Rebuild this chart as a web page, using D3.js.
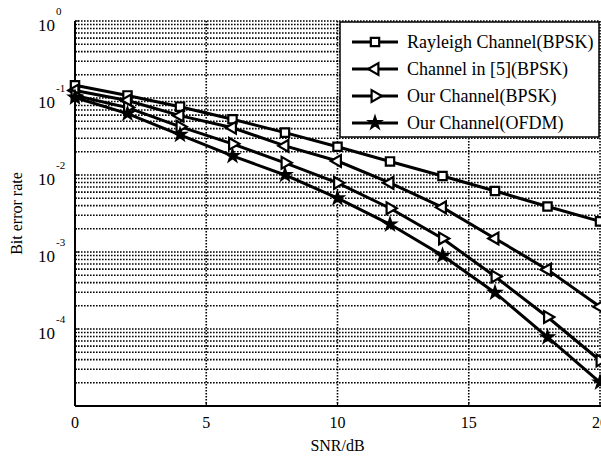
<!DOCTYPE html>
<html lang="en">
<head>
<meta charset="UTF-8">
<title>BER vs SNR</title>
<style>
  body { margin: 0; background: #fff; }
  svg { display: block; }
  text { font-family: "Liberation Serif", "Times New Roman", serif; fill: #000; }
  .grid line { stroke: #000; stroke-width: 1.6; stroke-dasharray: 1.6,1.4; }
  .series path.line { fill: none; stroke: #000; stroke-width: 3; }
</style>
</head>
<body>
<div id="chart"></div>
<script src="https://d3js.org/d3.v7.min.js"></script>
<script>
// data
const snr = [0, 2, 4, 6, 8, 10, 12, 14, 16, 18, 20];
const rayleigh = [0.146, 0.108, 0.0771, 0.053, 0.0355, 0.0233, 0.015, 0.0097, 0.0062, 0.0039, 0.0025];
const channel5 = [0.125, 0.0927, 0.059, 0.0411, 0.0239, 0.0152, 0.0079, 0.0038, 0.0015, 0.00059, 0.000194];
const ourBpsk = [0.108, 0.0751, 0.0424, 0.0254, 0.0144, 0.0079, 0.0037, 0.0015, 0.00048, 0.000143, 0.000039];
const ourOfdm = [0.1015, 0.0627, 0.0333, 0.0177, 0.01, 0.005, 0.00229, 0.0009, 0.000296, 0.0000785, 0.0000203];
const seriesNames = ["Rayleigh Channel(BPSK)", "Channel in [5](BPSK)", "Our Channel(BPSK)", "Our Channel(OFDM)"];
const xTicks = [0, 5, 10, 15, 20];
const yExponents = [0, -1, -2, -3, -4];

const W = 601, H = 459;
const plot = { left: 75, right: 600, top: 21, bottom: 406 };

const svg = d3.select("#chart").append("svg")
    .attr("width", W).attr("height", H);

const x = d3.scaleLinear().domain([0, 20]).range([plot.left, plot.right]);
const y = d3.scaleLog().domain([1e-5, 1]).range([plot.bottom, plot.top]);

// grid lines (minor + major on y, major on x)
const yGrid = [];
for (let e = -5; e < 0; e++) {
    for (let m = 1; m < 10; m++) yGrid.push(m * Math.pow(10, e));
}
yGrid.push(1);

const grid = svg.append("g").attr("class", "grid");
grid.selectAll(".gy").data(yGrid.filter(v => v > 1e-5)).enter().append("line")
    .attr("x1", plot.left).attr("x2", plot.right)
    .attr("y1", d => y(d)).attr("y2", d => y(d));
grid.selectAll(".gx").data(xTicks.slice(1)).enter().append("line")
    .attr("x1", d => x(d)).attr("x2", d => x(d))
    .attr("y1", plot.top).attr("y2", plot.bottom);

// axes
const axes = svg.append("g");
axes.append("line").attr("x1", plot.left).attr("x2", plot.left)
    .attr("y1", plot.top).attr("y2", plot.bottom)
    .attr("stroke", "#000").attr("stroke-width", 2);
axes.append("line").attr("x1", plot.left).attr("x2", plot.right + 1)
    .attr("y1", plot.bottom).attr("y2", plot.bottom)
    .attr("stroke", "#000").attr("stroke-width", 2);

// inward ticks
axes.selectAll(".tx").data(xTicks).enter().append("line")
    .attr("x1", d => x(d)).attr("x2", d => x(d))
    .attr("y1", plot.bottom).attr("y2", plot.bottom - 4)
    .attr("stroke", "#000").attr("stroke-width", 1.2);
axes.selectAll(".ty").data(yGrid).enter().append("line")
    .attr("x1", plot.left).attr("x2", d => plot.left + (Math.abs(Math.log10(d) % 1) < 1e-9 ? 4 : 2))
    .attr("y1", d => y(d)).attr("y2", d => y(d))
    .attr("stroke", "#000").attr("stroke-width", 1.2);

// x tick labels
axes.selectAll(".xl").data(xTicks).enter().append("text")
    .attr("x", d => x(d)).attr("y", 428)
    .attr("text-anchor", "middle").attr("font-size", 16)
    .text(d => d);

// y tick labels: 10 with superscript exponent
const yl = axes.selectAll(".yl").data(yExponents).enter().append("g")
    .attr("transform", d => `translate(55,${y(Math.pow(10, d))})`);
yl.append("text").attr("x", 0).attr("y", 10)
    .attr("text-anchor", "end").attr("font-size", 17)
    .text("10");
yl.append("text").attr("x", 1).attr("y", -6)
    .attr("text-anchor", "start").attr("font-size", 11)
    .text(d => d);

// axis titles
svg.append("text").attr("x", (plot.left + plot.right) / 2).attr("y", 451)
    .attr("text-anchor", "middle").attr("font-size", 16).text("SNR/dB");
svg.append("text")
    .attr("transform", `translate(22,${(plot.top + plot.bottom) / 2}) rotate(-90)`)
    .attr("text-anchor", "middle").attr("font-size", 16).text("Bit error rate");

// series
const markers = [
    { type: d3.symbolSquare, size: 70, rot: 0, fill: "#fff" },
    { type: d3.symbolTriangle, size: 60, rot: -90, fill: "#fff" },
    { type: d3.symbolTriangle, size: 60, rot: 90, fill: "#fff" },
    { type: d3.symbolStar, size: 38, rot: 0, fill: "#000" }
];
const seriesValues = [rayleigh, channel5, ourBpsk, ourOfdm];
const series = seriesNames.map((name, i) => ({
    name: name,
    marker: markers[i],
    points: snr.map((s, j) => ({ snr: s, ber: seriesValues[i][j] }))
}));

const line = d3.line().x(d => x(d.snr)).y(d => y(d.ber));

const g = svg.selectAll(".series").data(series).enter().append("g").attr("class", "series");
g.append("path").attr("class", "line").attr("d", d => line(d.points));
g.each(function(s) {
    d3.select(this).selectAll(".pt").data(s.points).enter().append("path")
        .attr("d", d3.symbol().type(s.marker.type).size(s.marker.size))
        .attr("transform", d => `translate(${x(d.snr)},${y(d.ber)}) rotate(${s.marker.rot})`)
        .attr("fill", s.marker.fill).attr("stroke", "#000").attr("stroke-width", 2.2);
});

// legend
const legend = svg.append("g");
legend.append("rect").attr("x", 340).attr("y", 22).attr("width", 259).attr("height", 115)
    .attr("fill", "#fff").attr("stroke", "#000").attr("stroke-width", 1.5);
const li = legend.selectAll(".li").data(series).enter().append("g")
    .attr("transform", (d, i) => `translate(0,${42 + i * 27})`);
li.append("line").attr("x1", 352).attr("x2", 398).attr("y1", 0).attr("y2", 0)
    .attr("stroke", "#000").attr("stroke-width", 3);
li.append("path")
    .attr("d", d => d3.symbol().type(d.marker.type).size(d.marker.size)())
    .attr("transform", d => `translate(375,0) rotate(${d.marker.rot})`)
    .attr("fill", d => d.marker.fill).attr("stroke", "#000").attr("stroke-width", 2.2);
li.append("text").attr("x", 407).attr("y", 6).attr("font-size", 18)
    .text(d => d.name);
</script>
</body>
</html>
